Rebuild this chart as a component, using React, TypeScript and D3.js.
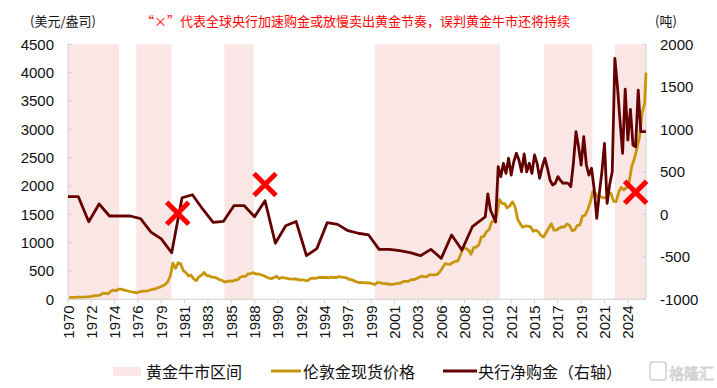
import React from 'react';
import * as d3 from 'd3';

const W = 717;
const H = 388;
const PL = 68;
const PR = 646;
const PT = 44.3;
const PB = 299.3;

const xTickLabels = ['1970','1972','1974','1976','1979','1981','1983','1985','1988','1990','1992','1994','1997','1999','2001','2003','2006','2008','2010','2012','2015','2017','2019','2021','2024'];
const xTickStart = '1970-01';
const xTickStepMonths = 27;
const leftTicks = [0, 500, 1000, 1500, 2000, 2500, 3000, 3500, 4000, 4500];
const rightTicks = [-1000, -500, 0, 500, 1000, 1500, 2000];

const bullStarts = ['1970-01', '1976-08', '1985-02', '1999-08', '2015-12', '2022-10'];
const bullEnds = ['1974-12', '1980-01', '1987-12', '2011-09', '2020-08', '2025-10'];

const goldStartYear = 1970;
const goldQuarterly = [
  35.0, 35.4, 35.5, 37.0,
  38.5, 40.0, 41.5, 43.0,
  48, 57, 66, 64,
  76, 108, 106, 98,
  142, 162, 152, 178,
  178, 167, 153, 142,
  130, 127, 112, 132,
  138, 146, 147, 160,
  177, 179, 202, 216,
  240, 258, 310, 412,
  640, 545, 645, 625,
  505, 470, 415, 425,
  360, 330, 395, 425,
  475, 420, 415, 390,
  385, 375, 345, 335,
  305, 315, 325, 320,
  340, 345, 390, 405,
  405, 450, 455, 470,
  445, 450, 430, 420,
  395, 375, 365, 385,
  405, 365, 385, 380,
  370, 360, 355, 360,
  350, 340, 345, 335,
  330, 365, 375, 370,
  385, 385, 385, 385,
  380, 390, 385, 385,
  400, 390, 385, 380,
  350, 345, 325, 305,
  295, 300, 290, 295,
  287, 275, 260, 300,
  290, 280, 275, 270,
  265, 265, 275, 280,
  290, 315, 315, 320,
  350, 345, 365, 390,
  410, 395, 400, 435,
  430, 430, 440, 485,
  555, 630, 620, 615,
  650, 670, 680, 790,
  925, 895, 870, 795,
  910, 920, 960, 1100,
  1110, 1195, 1230, 1365,
  1385, 1505, 1760, 1690,
  1690, 1610, 1650, 1720,
  1630, 1415, 1330, 1270,
  1295, 1290, 1280, 1200,
  1220, 1190, 1125, 1100,
  1180, 1260, 1335, 1220,
  1220, 1255, 1280, 1275,
  1330, 1305, 1210, 1225,
  1305, 1310, 1470, 1480,
  1580, 1710, 1910, 1875,
  1795, 1815, 1790, 1795,
  1875, 1870, 1730, 1725,
  1890, 1975, 1930, 1975,
  2070, 2340, 2475, 2665,
  2860, 3280, 3460,
];
const goldLatestMonth = '2025-10';
const goldLatestValue = 4000;

const cbAnnualStart = 1970;
const cbAnnual = [
  207, 207, -87, 121, -20, -20, -20, -50, -210, -290,
  -452, 195, 230, 60, -95, -82, 101, 101, -28, 160,
  -341, -134, -84, -487, -404, -99, -118, -193, -223, -243,
  -412, -412, -428, -452, -487, -412, -518, -243, -420, -146,
];
const cbQuarterlyStart = 2010;
const cbQuarterly = [
  -30, 240, 50, -20,
  -90, 560, 442, 600,
  482, 659, 462, 620,
  718, 639, 500, 710,
  501, 600, 482, 698,
  600, 424, 560, 659,
  541, 400, 345, 365,
  443, 400, 365, 370,
  365, 325, 600, 972,
  795, 580, 913, 580,
  462, 541, 300, -47,
  247, 500, 835, 129,
  350, 501, 1835, 1500,
  1100, 718, 1471, 874,
  1235, 815, 795, 1462,
  972, 972, 972,
];

const markerDates = ['1980-08', '1989-01', '2024-10'];
const markerValues = [12, 351, 259];

const GOLD = '#C8960C';
const CBRED = '#650000';
const PINK = '#FBE6E6';
const AXIS = '#D0D0D0';
const FONT = '"Liberation Sans", Arial, "Noto Sans CJK SC", sans-serif';
const CJK = '"Noto Sans CJK SC", "Liberation Sans", sans-serif';

const parseM = d3.timeParse('%Y-%m');

export default function App() {
  const start = parseM(xTickStart) as Date;
  const end = parseM(goldLatestMonth) as Date;
  const x = d3.scaleTime().domain([start, end]).range([PL, PR]);
  const yL = d3.scaleLinear().domain([0, 4500]).range([PB, PT]);
  const yR = d3.scaleLinear().domain([-1000, 2000]).range([PB, PT]);

  const goldPts: [Date, number][] = goldQuarterly.map((v, i) => [
    new Date(goldStartYear + Math.floor(i / 4), (i % 4) * 3 + 1, 15),
    v,
  ]);
  goldPts.push([end, goldLatestValue]);

  const cbPts: [Date, number][] = [
    ...cbAnnual.map((v, i) => [new Date(cbAnnualStart + i, 0, 1), v] as [Date, number]),
    ...cbQuarterly.map((v, i) => [
      new Date(cbQuarterlyStart + Math.floor(i / 4), (i % 4) * 3 + 3, 0),
      v,
    ] as [Date, number]),
  ];

  const goldLine = d3.line<[Date, number]>().x((d) => x(d[0])).y((d) => yL(d[1]));
  const cbLine = d3.line<[Date, number]>().x((d) => x(d[0])).y((d) => yR(d[1]));

  const xTicks = xTickLabels.map((lab, i) => ({
    lab,
    d: d3.timeMonth.offset(start, xTickStepMonths * i),
  }));

  const mk = 11;

  return (
    <svg width={W} height={H} style={{ position: 'absolute', left: 0, top: 0, background: '#fff' }}>
      <rect x={0} y={0} width={W} height={H} fill="#fff" />
      {/* shading */}
      {bullStarts.map((s, i) => {
        const x0 = x(parseM(s) as Date);
        const x1 = x(parseM(bullEnds[i]) as Date);
        return <rect key={'b' + i} x={x0} y={PT} width={x1 - x0} height={PB - PT} fill={PINK} />;
      })}
      {/* axes */}
      <line x1={PL} x2={PL} y1={PT} y2={PB} stroke={AXIS} />
      <line x1={PR} x2={PR} y1={PT} y2={PB} stroke={AXIS} />
      <line x1={PL} x2={PR} y1={PB} y2={PB} stroke={AXIS} />
      {leftTicks.map((t) => (
        <g key={'l' + t}>
          <line x1={PL} x2={PL + 4} y1={yL(t)} y2={yL(t)} stroke={AXIS} />
          <text x={54} y={yL(t)} textAnchor="end" dominantBaseline="central" fontSize={15} fontFamily={FONT} fill="#111">
            {t}
          </text>
        </g>
      ))}
      {rightTicks.map((t) => (
        <g key={'r' + t}>
          <line x1={PR - 4} x2={PR} y1={yR(t)} y2={yR(t)} stroke={AXIS} />
          <text x={660} y={yR(t)} textAnchor="start" dominantBaseline="central" fontSize={15} fontFamily={FONT} fill="#111">
            {t}
          </text>
        </g>
      ))}
      {xTicks.map((t) => (
        <g key={'x' + t.lab}>
          <line x1={x(t.d)} x2={x(t.d)} y1={PB} y2={PB + 4} stroke={AXIS} />
          <text
            transform={`translate(${x(t.d)},${PB + 6}) rotate(-90)`}
            textAnchor="end"
            dominantBaseline="central"
            fontSize={15}
            fontFamily={FONT}
            fill="#111"
          >
            {t.lab}
          </text>
        </g>
      ))}
      {/* lines */}
      <path d={goldLine(goldPts) || ''} fill="none" stroke={GOLD} strokeWidth={2.8} strokeLinejoin="round" />
      <path d={cbLine(cbPts) || ''} fill="none" stroke={CBRED} strokeWidth={2.8} strokeLinejoin="round" />
      {/* markers */}
      {markerDates.map((m, i) => {
        const cx = x(parseM(m) as Date);
        const cy = yR(markerValues[i]);
        return (
          <g key={'m' + i} stroke="#FF0000" strokeWidth={5}>
            <line x1={cx - mk} y1={cy - mk} x2={cx + mk} y2={cy + mk} />
            <line x1={cx - mk} y1={cy + mk} x2={cx + mk} y2={cy - mk} />
          </g>
        );
      })}
      {/* titles */}
      <text x={30} y={26} fontSize={13} fontFamily={CJK} fill="#111">(美元/盎司)</text>
      <text x={141} y={26} fontSize={13} fontFamily={CJK} fill="#FF0000">“×”代表全球央行加速购金或放慢卖出黄金节奏，误判黄金牛市还将持续</text>
      <text x={655} y={26} fontSize={13} fontFamily={CJK} fill="#111">(吨)</text>
      {/* legend */}
      <rect x={113} y={367} width={28} height={9} fill={PINK} />
      <text x={146} y={371} dominantBaseline="central" fontSize={16} fontFamily={CJK} fill="#111">黄金牛市区间</text>
      <line x1={271} x2={301} y1={371} y2={371} stroke={GOLD} strokeWidth={3} />
      <text x={303} y={371} dominantBaseline="central" fontSize={16} fontFamily={CJK} fill="#111">伦敦金现货价格</text>
      <line x1={443} x2={477} y1={371} y2={371} stroke={CBRED} strokeWidth={3} />
      <text x={478} y={371} dominantBaseline="central" fontSize={16} fontFamily={CJK} fill="#111">央行净购金（右轴）</text>
      {/* watermark */}
      <rect x={650} y={362} width={16} height={18} rx={3} fill="none" stroke="#CFCFCF" strokeWidth={1.5} />
      <text x={669} y={372} dominantBaseline="central" fontSize={15} fontFamily={CJK} fill="none" stroke="#CFCFCF" strokeWidth={0.8}>格隆汇</text>
    </svg>
  );
}
